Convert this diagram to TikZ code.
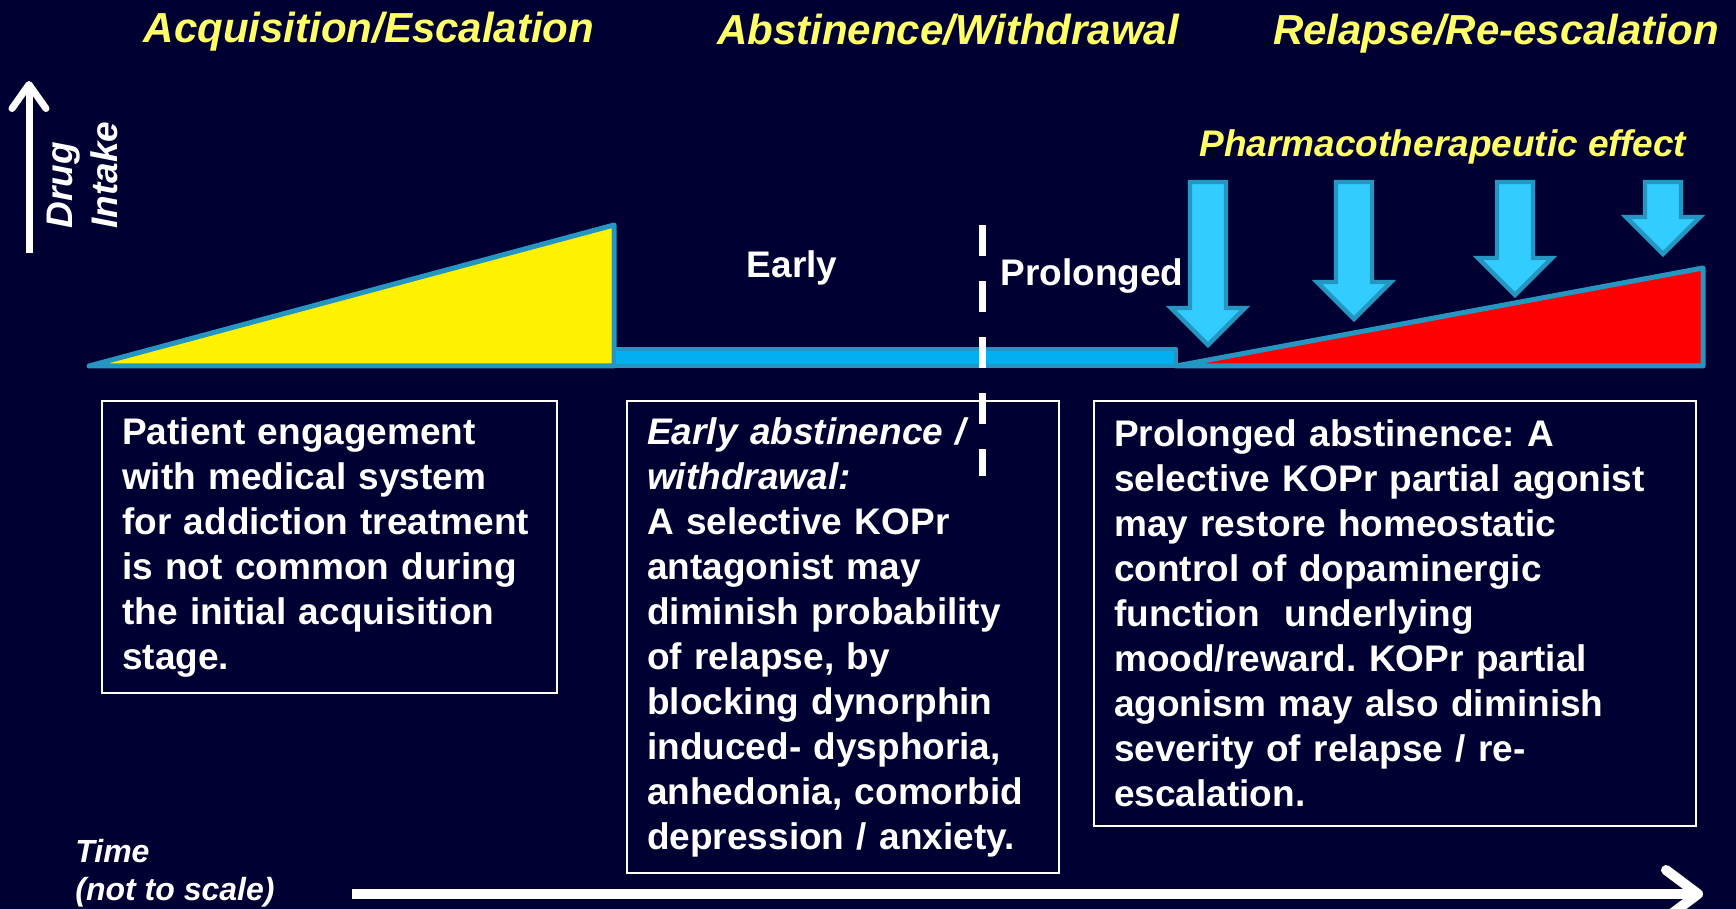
\documentclass[tikz,border=0pt]{standalone}
\usepackage{fontspec}
\setmainfont{Liberation Sans}
\usetikzlibrary{
    arrows.meta,
    calc,
    positioning
}
\definecolor{navy}{HTML}{000033}
\definecolor{titleyellow}{HTML}{FFFF66}
\definecolor{edgeblue}{HTML}{2596C2}
\definecolor{barblue}{HTML}{00B0F0}
\definecolor{arrowblue}{HTML}{33CCFF}
\frenchspacing

\begin{document}
\begin{tikzpicture}[x=0.5pt, y=-0.5pt,
        title/.style={text=titleyellow, inner sep=0pt, anchor=base, font=\fontsize{21}{25}\selectfont\bfseries\itshape},
        phase/.style={text=white, inner sep=0pt, anchor=base, font=\fontsize{18.5}{22.5}\selectfont\bfseries},
        infobox/.style={draw=white, line width=1.2pt, text=white, align=left, anchor=north west,
            inner xsep=10pt, inner ysep=0pt, font=\fontsize{18.5}{22.5}\selectfont\bfseries},
        stage/.style={draw=edgeblue, line width=2.5pt, line join=round},
        pharmarrow/.style={draw=edgeblue, fill=arrowblue, line width=2.2pt, line join=miter}]
                        \fill[navy] (0,0) rectangle (1736,909);
                        \useasboundingbox (0,0) rectangle (1736,909);

                        % headings
                        \node[title] (acq) at (369,43) {Acquisition/Escalation};
                        \node[title] (abst) at (948,45) {Abstinence/Withdrawal};
                        \node[title] (rel) at (1496,45) {Relapse/Re-escalation};
                        \node[title, font=\fontsize{18.5}{22.5}\selectfont\bfseries\itshape] (pharm) at (1443,157) {Pharmacotherapeutic effect};

                        % intake curve
                        \draw[stage, fill=yellow] (89,366) -- (614,366) -- (614,225) -- cycle;
                        \draw[stage, fill=barblue, line width=2pt] (614,349) rectangle (1176,366);
                        \draw[stage, fill=red] (1176,366) -- (1703,366) -- (1703,268) -- cycle;
                        \foreach \cx/\hb in {1208/308, 1354/282, 1515/258, 1663/217}
                            \draw[pharmarrow] (\cx-18,182) -- (\cx+18,182) -- (\cx+18,\hb) -- (\cx+37,\hb)
                                -- (\cx,\hb+37) -- (\cx-37,\hb) -- (\cx-18,\hb) -- cycle;

                        \node[phase] (early) at (792,278) {Early};
                        \node[phase] (prol) at (1092,286) {Prolonged};

                        % text boxes
                        \node[infobox, text width=207.5pt, minimum height=146pt] (b1) at (101,400)
                            {Patient engagement\\with medical system\\for addiction treatment\\is not common during\\the initial acquisition\\stage.};
                        \node[infobox, text width=196pt, minimum height=236pt] (b2) at (626,400)
                            {{\itshape Early abstinence /}\\{\itshape withdrawal:}\\A selective KOPr\\antagonist may\\diminish probability\\of relapse, by\\blocking dynorphin\\induced- dysphoria,\\anhedonia, comorbid\\depression / anxiety.};
                        \node[infobox, text width=281pt, minimum height=212.5pt] (b3) at (1093,400)
                            {Prolonged abstinence: A\\selective KOPr partial agonist\\may restore homeostatic\\control of dopaminergic\\function\ \ underlying\\mood/reward. KOPr partial\\agonism may also diminish\\severity of relapse / re-\\escalation.};

                        % axes
                        \node[rotate=90, anchor=west, align=left, inner sep=0pt, text=white,
                            font=\fontsize{18.5}{22.5}\selectfont\bfseries\itshape] (intake) at (82,229) {Drug\\Intake};
                        \node[anchor=west, align=left, inner sep=0pt, text=white,
                            font=\fontsize{16}{19}\selectfont\bfseries\itshape] (time) at (75,873) {Time\\(not to scale)};
                        \coordinate (ybase) at (29,253);
                        \coordinate (ytop) at (29,81);
                        \coordinate (tstart) at (352,894);
                        \coordinate (tend) at (1703,894);
                        \coordinate (dtop) at (982,225);
                        \coordinate (dbot) at (982,476);

                        \draw
                        (ybase) edge [white, line width=3.5pt, -{Straight Barb[round, length=12pt, width=17pt]}] (ytop)
                        (tstart) edge [white, line width=5pt, -{Straight Barb[round, length=16pt, width=24pt]}] (tend)
                        (dtop) edge [white, line width=3.5pt, dash pattern=on 15.5pt off 12.5pt] (dbot);
                    \end{tikzpicture}
\end{document}
